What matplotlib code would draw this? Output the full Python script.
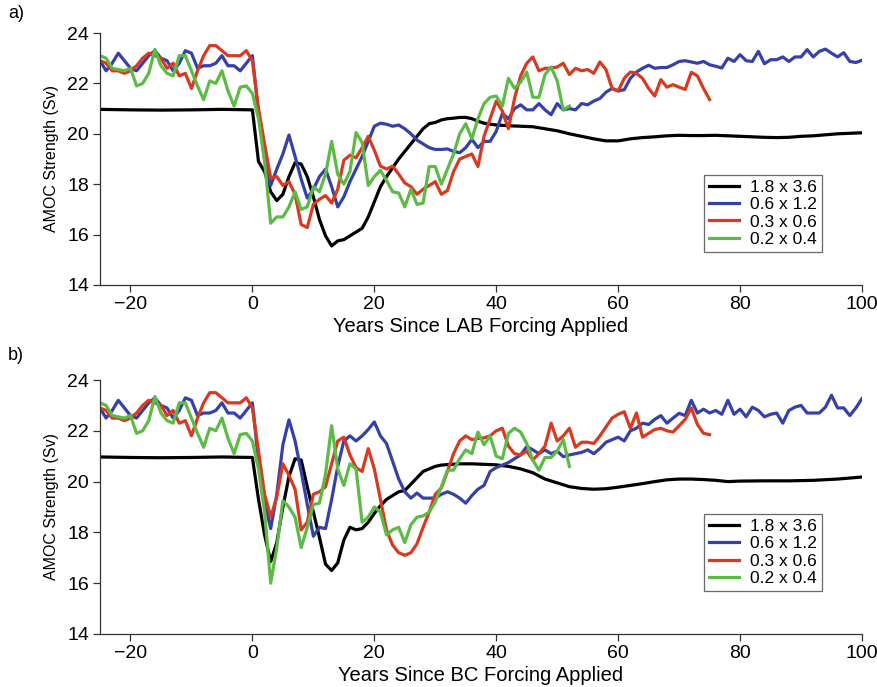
import numpy as np
import matplotlib
matplotlib.use("Agg")
import matplotlib.pyplot as plt

plt.rcParams['font.family'] = ['Liberation Sans', 'DejaVu Sans']

labels = ["1.8 x 3.6", "0.6 x 1.2", "0.3 x 0.6", "0.2 x 0.4"]
colors = ["#000000", "#3540a8", "#d8391f", "#5dba47"]

# control period (years -25 .. 0), shared by both experiments
blue_pre = [22.9, 22.5, 22.8, 23.2, 22.9, 22.6, 22.5, 22.8, 23.1, 23.3, 23.0, 22.9, 22.5,
            22.8, 23.3, 23.2, 22.6, 22.7, 22.7, 22.8, 23.1, 22.7, 22.7, 22.5, 22.8, 23.1]
red_pre = [22.9, 22.8, 22.5, 22.5, 22.4, 22.5, 22.7, 23.0, 23.2, 23.1, 23.0, 22.6, 22.8,
           22.3, 22.4, 21.8, 22.5, 23.1, 23.5, 23.5, 23.3, 23.1, 23.1, 23.1, 23.3, 22.9]
green_pre = [23.1, 23.0, 22.6, 22.55, 22.5, 22.6, 21.9, 22.0, 22.4, 23.35, 22.7, 22.4, 22.3,
             23.1, 23.1, 22.5, 21.9, 21.35, 22.1, 22.0, 22.5, 21.7, 21.1, 21.85, 21.9, 21.6]
black_pre_years = [-25, -20, -15, -10, -5, 0]
black_pre = [20.97, 20.95, 20.94, 20.95, 20.97, 20.95]

# ---------------- panel a (LAB forcing), years 1 .. end ----------------
blue_a = [20.8, 19.0, 17.95, 18.6, 19.2, 19.95, 19.1, 18.2, 17.45, 17.8,
          18.3, 18.6, 17.9, 17.1, 17.5, 18.1, 18.6, 19.1, 19.7, 20.3,
          20.42, 20.38, 20.3, 20.35, 20.2, 20.0, 19.75, 19.6, 19.45, 19.38,
          19.38, 19.4, 19.3, 19.25, 19.45, 19.78, 19.45, 19.7, 19.7, 20.1,
          20.8, 20.6, 21.0, 21.15, 20.95, 20.95, 21.2, 20.95, 20.76, 21.2,
          20.95, 21.0, 20.95, 21.2, 21.15, 21.3, 21.4, 21.65, 21.8, 21.7,
          21.75, 22.2, 22.45, 22.6, 22.72, 22.6, 22.63, 22.63, 22.74, 22.87,
          22.9, 22.85, 22.8, 22.87, 22.74, 22.68, 22.61, 23.0, 22.87, 23.14,
          22.9, 22.87, 23.27, 22.78, 22.94, 22.94, 23.05, 22.87, 23.05, 23.05,
          23.34, 23.05, 23.27, 23.36, 23.2, 23.05, 23.22, 22.87, 22.83, 22.92]
red_a = [21.0, 19.6, 18.25, 18.3, 17.95, 18.1, 17.6, 16.4, 16.28, 17.2,
         17.4, 17.55, 17.25, 17.8, 18.95, 19.15, 19.05, 19.45, 19.9, 19.35,
         18.72, 18.6, 18.72, 18.4, 18.05, 17.9, 17.6, 17.8, 17.95, 18.1,
         17.6, 17.75, 18.5, 19.0, 19.1, 19.2, 18.7, 19.9, 20.6, 21.3,
         20.9, 20.2, 21.4, 22.3, 22.8, 23.05, 22.5, 22.6, 22.6, 22.65,
         22.8, 22.35, 22.6, 22.5, 22.55, 22.4, 22.85, 22.55, 21.8, 21.7,
         22.2, 22.45, 22.4, 22.2, 21.8, 21.5, 22.15, 21.85, 21.95, 21.85,
         21.76, 22.44, 22.3, 21.8, 21.36]
green_a = [20.6, 18.9, 16.45, 16.7, 16.7, 17.1, 17.7, 17.0, 17.1, 17.9,
           17.7, 18.4, 19.7, 18.4, 18.0, 18.5, 20.05, 19.65, 17.95, 18.3,
           18.55, 18.15, 17.7, 17.65, 17.1, 17.8, 17.2, 17.25, 18.7, 18.7,
           18.0, 18.6, 19.2, 20.0, 20.4, 19.8, 20.6, 21.2, 21.45, 21.5,
           21.1, 22.2, 21.8, 22.05, 22.45, 21.45, 21.45, 22.35, 22.65, 22.1,
           20.95, 21.1]
black_a_years = list(range(1, 41)) + list(range(42, 101, 2))
black_a = [18.9, 18.5, 17.7, 17.35, 17.6, 18.3, 18.85, 18.8, 18.3, 17.5,
           16.6, 15.95, 15.55, 15.75, 15.8, 15.95, 16.1, 16.25, 16.7, 17.3,
           17.9, 18.3, 18.65, 19.0, 19.3, 19.6, 19.9, 20.2, 20.4, 20.45,
           20.55, 20.6, 20.62, 20.65, 20.65, 20.6, 20.5, 20.42, 20.38, 20.35,
           20.32, 20.3, 20.28, 20.2, 20.12, 20.0, 19.9, 19.8, 19.72, 19.72,
           19.8, 19.85, 19.88, 19.92, 19.94, 19.93, 19.93, 19.94, 19.92, 19.9,
           19.88, 19.86, 19.85, 19.86, 19.9, 19.92, 19.96, 20.0, 20.02, 20.04]

# ---------------- panel b (BC forcing), years 1 .. end ----------------
blue_b = [20.8, 19.2, 18.15, 19.5, 21.45, 22.43, 21.6, 20.4, 19.1, 17.85,
          18.2, 18.15, 19.3, 20.6, 21.6, 21.8, 21.6, 21.8, 22.05, 22.35,
          21.8, 21.5, 20.8, 20.1, 19.6, 19.35, 19.55, 19.35, 19.35, 19.35,
          19.5, 19.6, 19.5, 19.35, 19.15, 19.45, 19.7, 19.85, 20.4, 20.55,
          20.65, 20.75, 20.9, 21.05, 21.38, 21.25, 21.1, 21.25, 21.1, 21.2,
          20.98, 21.05, 21.1, 21.15, 21.25, 21.1, 21.3, 21.55, 21.65, 21.75,
          21.6, 22.0, 22.1, 22.3, 22.25, 22.45, 22.6, 22.3, 22.5, 22.69,
          22.6, 23.2, 22.7, 22.85, 22.7, 22.8, 22.65, 23.2, 22.65, 22.85,
          22.55, 22.93, 22.8, 22.55, 22.65, 22.7, 22.3, 22.8, 22.93, 23.0,
          22.7, 22.7, 22.7, 22.93, 23.4, 22.9, 22.9, 22.6, 22.9, 23.27]
red_b = [21.2, 19.5, 18.6, 19.4, 20.7, 20.25, 19.7, 18.1, 18.4, 19.5,
         19.6, 19.8, 20.7, 21.6, 21.75, 21.05, 20.55, 20.4, 21.3, 20.5,
         19.3, 18.1, 17.5, 17.2, 17.1, 17.2, 17.55, 18.2, 18.8, 19.5,
         19.75, 20.4, 21.1, 21.6, 21.8, 21.65, 21.7, 21.72, 21.8, 22.0,
         22.1, 21.4, 21.1, 21.05, 21.2, 20.85, 21.1, 21.4, 22.3, 21.6,
         21.8, 22.1, 21.35, 21.55, 21.55, 21.5, 21.8, 22.15, 22.5, 22.65,
         22.75, 22.1, 22.7, 21.75, 21.9, 22.05, 22.1, 22.0, 21.95, 22.2,
         22.45, 22.9, 22.25, 21.9, 21.85]
green_b = [20.5, 18.8, 16.0, 17.4, 19.25, 19.0, 18.6, 17.4, 18.2, 19.1,
           19.15, 20.3, 22.2, 20.5, 19.85, 20.7, 20.5, 18.4, 18.6, 19.0,
           18.8, 17.9, 18.1, 18.2, 17.6, 18.3, 18.6, 18.65, 18.8, 19.2,
           19.8, 20.45, 20.45, 20.9, 21.25, 21.1, 21.95, 21.45, 21.8, 21.0,
           20.9, 21.9, 22.1, 21.95, 21.5, 20.85, 20.45, 20.95, 20.95, 21.2,
           21.65, 20.6]
black_b_years = list(range(1, 33)) + list(range(34, 81, 2)) + [84, 88, 92, 96, 100]
black_b = [19.3, 17.9, 16.85, 17.6, 19.0, 20.2, 20.9, 20.85, 19.8, 18.8,
           17.8, 16.75, 16.5, 16.8, 17.7, 18.2, 18.1, 18.15, 18.4, 18.75,
           19.05, 19.3, 19.45, 19.6, 19.65, 19.9, 20.15, 20.4, 20.5, 20.6,
           20.65, 20.67, 20.7, 20.7, 20.68, 20.66, 20.6, 20.5, 20.35, 20.1,
           19.95, 19.8, 19.73, 19.7, 19.72, 19.78, 19.85, 19.92, 20.0, 20.07,
           20.1, 20.1, 20.08, 20.05, 20.0, 20.02, 20.03, 20.03, 20.05, 20.1,
           20.18]

x_ticks = [-20, 0, 20, 40, 60, 80, 100]
y_ticks = [14, 16, 18, 20, 22, 24]

W, H = 878, 687
fig = plt.figure(figsize=(W / 100, H / 100), dpi=100)

def make_axes(top, bottom):
    return fig.add_axes([100 / W, 1 - bottom / H, 762 / W, (bottom - top) / H])

ax_a = make_axes(33, 285)
ax_b = make_axes(380, 634)

panels = [
    (ax_a, black_a_years, black_a, blue_a, red_a, green_a,
     "Years Since LAB Forcing Applied", 0.131),
    (ax_b, black_b_years, black_b, blue_b, red_b, green_b,
     "Years Since BC Forcing Applied", 0.169),
]

lw = 2.3
for ax, byrs, bvals, bl, rd, gr, xlabel, leg_y in panels:
    ax.plot(black_pre_years + byrs, black_pre + bvals, color=colors[0], lw=lw,
            label=labels[0], solid_joinstyle='round')
    for pre, post, c, lab in [(blue_pre, bl, colors[1], labels[1]),
                              (red_pre, rd, colors[2], labels[2]),
                              (green_pre, gr, colors[3], labels[3])]:
        vals = pre + post
        yrs = np.arange(len(vals)) - 25
        ax.plot(yrs, vals, color=c, lw=lw, label=lab, solid_joinstyle='round')
    ax.set_xlim(-25, 100)
    ax.set_ylim(14, 24)
    ax.set_xticks(x_ticks)
    ax.set_yticks(y_ticks)
    for s in ['top', 'right']:
        ax.spines[s].set_visible(False)
    for s in ['left', 'bottom']:
        ax.spines[s].set_color('#333333')
        ax.spines[s].set_linewidth(0.9)
    ax.tick_params(direction='out', length=5, width=0.9, color='#333333',
                   labelsize=14, pad=3)
    ax.set_xlabel(xlabel, fontsize=14.5, labelpad=3)
    ax.set_ylabel("AMOC Strength (Sv)", fontsize=11.5, labelpad=6)
    leg = ax.legend(loc='lower right', bbox_to_anchor=(0.9475, leg_y), fontsize=12.5,
                    frameon=True, fancybox=False, edgecolor='#444444',
                    handlelength=1.7, handletextpad=0.65, borderpad=0.3,
                    labelspacing=0.12, borderaxespad=0)
    leg.get_frame().set_linewidth(0.9)

fig.text(8 / W, 1 - 13 / H, "a)", fontsize=13, va='center', ha='left')
fig.text(8 / W, 1 - 355 / H, "b)", fontsize=13, va='center', ha='left')

fig.savefig("out.png", dpi=100)
